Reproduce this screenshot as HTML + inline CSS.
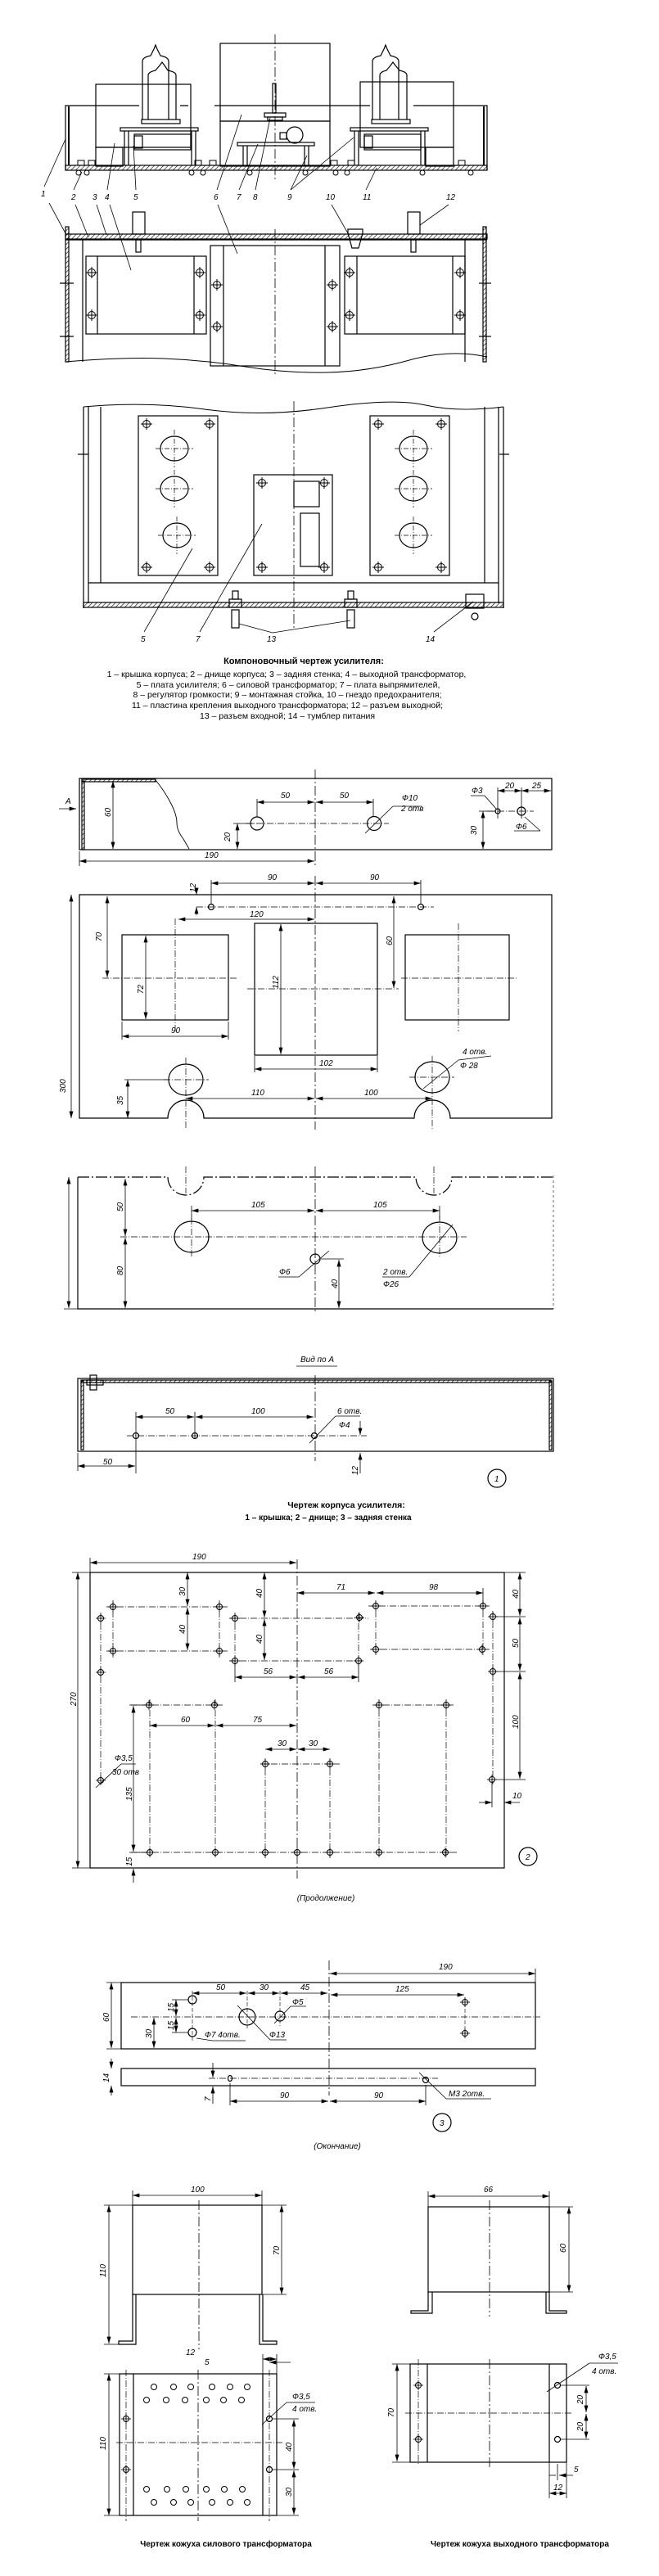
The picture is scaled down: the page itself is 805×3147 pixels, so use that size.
<!DOCTYPE html>
<html><head><meta charset="utf-8"><style>
html,body{margin:0;padding:0;background:#fff}
svg{display:block}
text{font-family:"Liberation Sans","DejaVu Sans",sans-serif;fill:#000}
.d{font-style:italic;font-size:10px}
.c{font-size:10.5px}
.b{font-size:11px;font-weight:bold}
</style></head><body>
<svg width="805" height="3147" viewBox="0 0 805 3147" xmlns="http://www.w3.org/2000/svg" fill="none" stroke="#000" stroke-width="1.2">
<defs>
<marker id="a" viewBox="0 0 10 6" refX="10" refY="3" markerWidth="9" markerHeight="5" orient="auto-start-reverse" markerUnits="userSpaceOnUse"><path d="M0,0L10,3L0,6z" fill="#000" stroke="none"/></marker>
<pattern id="h" width="4" height="4" patternUnits="userSpaceOnUse" patternTransform="rotate(45)"><line x1="0" y1="0" x2="0" y2="4" stroke="#000" stroke-width="1.2"/></pattern>
<g id="sc"><circle r="4.5" stroke-width="1"/><line x1="-7" y1="0" x2="7" y2="0" stroke-width="1"/><line x1="0" y1="-7" x2="0" y2="7" stroke-width="1"/></g>
<g id="ho"><circle r="3.5" stroke-width="1"/><line x1="-6" y1="0" x2="6" y2="0" stroke-width=".8"/><line x1="0" y1="-6" x2="0" y2="6" stroke-width=".8"/></g>
</defs>
<g class="dd" stroke-dasharray="12 3 2 3" stroke-width=".8">
<line x1="336" y1="42" x2="336" y2="220"/>
<line x1="336" y1="280" x2="336" y2="460"/>
<line x1="359" y1="490" x2="359" y2="770"/>
<line x1="385" y1="940" x2="385" y2="1058"/>
<line x1="385" y1="1070" x2="385" y2="1380"/>
<line x1="385" y1="1425" x2="385" y2="1605"/>
<line x1="385" y1="1680" x2="385" y2="1785"/>
<line x1="363" y1="1905" x2="363" y2="2295"/>
<line x1="402" y1="2395" x2="402" y2="2560"/>
<line x1="243" y1="2688" x2="243" y2="2870"/>
<line x1="242" y1="2895" x2="242" y2="3080"/>
<line x1="598" y1="2688" x2="598" y2="2830"/>
<line x1="598" y1="2882" x2="598" y2="3015"/>
</g>

<!-- ========== TOP SECTION VIEW ========== -->
<g>
<rect x="269" y="53" width="134" height="95"/>
<rect x="269" y="148" width="134" height="55"/>
<rect x="117" y="103" width="116" height="77"/>
<rect x="117" y="180" width="33" height="23"/>
<rect x="440" y="100" width="114" height="80"/>
<rect x="520" y="180" width="34" height="23"/>
<path d="M80 208 V129 H170 M220 129 H230 M262 129 H452 M505 129 H595 V208" />
<rect x="80" y="202" width="515" height="6" fill="url(#h)"/>
<line x1="84" y1="130" x2="84" y2="202" stroke-width="2"/>
<line x1="591" y1="130" x2="591" y2="202" stroke-width="2"/>
<!-- tubes -->
<path d="M174 146 V75 Q174 70 184 68 L188 60 L190 55 L192 60 L196 68 Q206 70 206 75 V146"/>
<path d="M181 146 V92 Q181 88 190 86 L195 80 L198 76 L201 80 L205 86 Q215 88 215 92 V146"/>
<rect x="173" y="146" width="47" height="5"/>
<path d="M455 146 V75 Q455 70 465 68 L469 60 L471 55 L473 60 L477 68 Q487 70 487 75 V146"/>
<path d="M464 146 V92 Q464 88 472 86 L477 80 L480 76 L483 80 L488 86 Q497 88 497 92 V146"/>
<rect x="454" y="146" width="47" height="5"/>
<!-- platforms -->
<rect x="147" y="156" width="95" height="4"/>
<line x1="152" y1="160" x2="152" y2="202"/><line x1="157" y1="160" x2="157" y2="202"/>
<line x1="234" y1="160" x2="234" y2="202"/><line x1="239" y1="160" x2="239" y2="202"/>
<rect x="164" y="164" width="69" height="19"/><rect x="164" y="166" width="10" height="15"/>
<rect x="428" y="156" width="95" height="4"/>
<line x1="433" y1="160" x2="433" y2="202"/><line x1="438" y1="160" x2="438" y2="202"/>
<line x1="514" y1="160" x2="514" y2="202"/><line x1="519" y1="160" x2="519" y2="202"/>
<rect x="445" y="164" width="69" height="19"/><rect x="445" y="166" width="10" height="15"/>
<!-- rectifier board -->
<rect x="290" y="174" width="94" height="4"/>
<line x1="297" y1="178" x2="297" y2="202"/><line x1="302" y1="178" x2="302" y2="202"/>
<line x1="372" y1="178" x2="372" y2="202"/><line x1="377" y1="178" x2="377" y2="202"/>
<circle cx="360" cy="165" r="10"/><rect x="342" y="162" width="8" height="8"/>
<rect x="333" y="102" width="4" height="36"/><rect x="323" y="138" width="26" height="5"/><rect x="327" y="143" width="18" height="4"/>
<g stroke-width="1">
<rect x="95" y="196" width="8" height="6"/><rect x="108" y="196" width="8" height="6"/><rect x="238" y="196" width="8" height="6"/><rect x="256" y="196" width="8" height="6"/><rect x="404" y="196" width="8" height="6"/><rect x="425" y="196" width="8" height="6"/><rect x="560" y="196" width="8" height="6"/>
<circle cx="96" cy="211" r="3"/><circle cx="106" cy="211" r="3"/><circle cx="234" cy="211" r="3"/><circle cx="248" cy="211" r="3"/><circle cx="305" cy="211" r="3"/><circle cx="373" cy="211" r="3"/><circle cx="410" cy="211" r="3"/><circle cx="424" cy="211" r="3"/><circle cx="516" cy="211" r="3"/><circle cx="575" cy="211" r="3"/>
</g>
<g stroke-width=".8">
<line x1="54" y1="228" x2="80" y2="170"/><line x1="90" y1="232" x2="100" y2="210"/><line x1="131" y1="232" x2="140" y2="175"/><line x1="166" y1="232" x2="163" y2="178"/>
<line x1="265" y1="232" x2="295" y2="140"/><line x1="292" y1="232" x2="315" y2="176"/><line x1="312" y1="232" x2="330" y2="144"/>
<line x1="355" y1="232" x2="375" y2="190"/><line x1="355" y1="232" x2="432" y2="168"/><line x1="447" y1="232" x2="460" y2="205"/>
</g>
</g>
<g class="d" stroke="none">
<text x="50" y="240">1</text><text x="87" y="244">2</text><text x="113" y="244">3</text><text x="128" y="244">4</text><text x="163" y="244">5</text><text x="261" y="244">6</text><text x="289" y="244">7</text><text x="309" y="244">8</text><text x="351" y="244">9</text><text x="398" y="244">10</text><text x="443" y="244">11</text><text x="545" y="244">12</text>
</g>

<!-- ========== SECOND VIEW ========== -->
<g>
<rect x="80" y="286" width="515" height="6" fill="url(#h)"/>
<line x1="80" y1="293" x2="595" y2="293"/>
<rect x="80" y="277" width="4" height="165" fill="url(#h)"/>
<line x1="101" y1="293" x2="101" y2="442"/>
<line x1="568" y1="293" x2="568" y2="442"/>
<rect x="590" y="277" width="4" height="165" fill="url(#h)"/>
<path d="M80 442 Q150 436 200 438 T300 448 T400 455 T500 440 T595 436" stroke-width="1"/>
<rect x="105" y="313" width="147" height="95"/><line x1="119" y1="313" x2="119" y2="408"/><line x1="237" y1="313" x2="237" y2="408"/>
<rect x="257" y="300" width="158" height="147"/><line x1="273" y1="300" x2="273" y2="447"/><line x1="397" y1="300" x2="397" y2="447"/>
<rect x="421" y="313" width="147" height="95"/><line x1="436" y1="313" x2="436" y2="408"/><line x1="553" y1="313" x2="553" y2="408"/>
<rect x="162" y="259" width="15" height="27"/><rect x="166" y="293" width="6" height="15"/>
<rect x="498" y="259" width="15" height="27"/><rect x="502" y="293" width="6" height="15"/>
<path d="M425 280 H443 V285 L438 303 H430 L425 285 Z"/>
<use href="#sc" x="112" y="333"/><use href="#sc" x="112" y="385"/><use href="#sc" x="244" y="333"/><use href="#sc" x="244" y="385"/>
<use href="#sc" x="265" y="348"/><use href="#sc" x="265" y="399"/><use href="#sc" x="406" y="348"/><use href="#sc" x="406" y="399"/>
<use href="#sc" x="427" y="333"/><use href="#sc" x="427" y="385"/><use href="#sc" x="562" y="333"/><use href="#sc" x="562" y="385"/>
<line x1="73" y1="346" x2="90" y2="346"/><line x1="73" y1="411" x2="90" y2="411"/><line x1="585" y1="346" x2="600" y2="346"/><line x1="585" y1="411" x2="600" y2="411"/>
<g stroke-width=".8"><line x1="60" y1="248" x2="80" y2="285"/><line x1="92" y1="250" x2="108" y2="290"/><line x1="118" y1="250" x2="130" y2="287"/><line x1="134" y1="250" x2="160" y2="330"/><line x1="266" y1="250" x2="290" y2="310"/><line x1="405" y1="250" x2="425" y2="285"/><line x1="548" y1="250" x2="513" y2="275"/></g>
</g>

<!-- ========== THIRD VIEW ========== -->
<g>
<path d="M102 497 Q180 490 250 500 T400 498 T520 495 T615 497" stroke-width="1"/>
<line x1="102" y1="497" x2="102" y2="743"/><line x1="108" y1="497" x2="108" y2="737"/><line x1="123" y1="497" x2="123" y2="712"/>
<line x1="615" y1="497" x2="615" y2="743"/><line x1="609" y1="497" x2="609" y2="737"/><line x1="592" y1="497" x2="592" y2="712"/>
<line x1="108" y1="712" x2="609" y2="712"/>
<rect x="102" y="736" width="513" height="6" fill="url(#h)"/>
<rect x="169" y="508" width="97" height="195"/>
<rect x="452" y="508" width="97" height="195"/>
<rect x="310" y="580" width="96" height="123"/>
<rect x="359" y="588" width="31" height="31"/><rect x="367" y="627" width="23" height="65"/>
<g stroke-width="1.2">
<ellipse cx="213" cy="548" rx="17" ry="15"/><ellipse cx="213" cy="597" rx="17" ry="15"/><ellipse cx="216" cy="654" rx="17" ry="15"/>
<ellipse cx="505" cy="548" rx="17" ry="15"/><ellipse cx="505" cy="597" rx="17" ry="15"/><ellipse cx="505" cy="654" rx="17" ry="15"/>
</g>
<g stroke-width=".7" stroke-dasharray="6 2 1 2">
<line x1="190" y1="548" x2="236" y2="548"/><line x1="213" y1="525" x2="213" y2="571"/><line x1="190" y1="597" x2="236" y2="597"/><line x1="213" y1="574" x2="213" y2="620"/><line x1="193" y1="654" x2="239" y2="654"/><line x1="216" y1="631" x2="216" y2="677"/>
<line x1="482" y1="548" x2="528" y2="548"/><line x1="505" y1="525" x2="505" y2="571"/><line x1="482" y1="597" x2="528" y2="597"/><line x1="505" y1="574" x2="505" y2="620"/><line x1="482" y1="654" x2="528" y2="654"/><line x1="505" y1="631" x2="505" y2="677"/>
</g>
<use href="#sc" x="179" y="518"/><use href="#sc" x="256" y="518"/><use href="#sc" x="179" y="693"/><use href="#sc" x="256" y="693"/>
<use href="#sc" x="462" y="518"/><use href="#sc" x="539" y="518"/><use href="#sc" x="462" y="693"/><use href="#sc" x="539" y="693"/>
<use href="#sc" x="320" y="590"/><use href="#sc" x="396" y="590"/><use href="#sc" x="320" y="693"/><use href="#sc" x="396" y="693"/>
<rect x="284" y="722" width="7" height="10"/><rect x="280" y="732" width="15" height="10"/><rect x="283" y="745" width="9" height="22"/>
<rect x="425" y="722" width="7" height="10"/><rect x="421" y="732" width="15" height="10"/><rect x="424" y="745" width="9" height="22"/>
<rect x="569" y="726" width="22" height="17"/><circle cx="580" cy="753" r="4"/>
<line x1="95" y1="555" x2="108" y2="555"/><line x1="610" y1="555" x2="622" y2="555"/>
<g stroke-width=".8"><line x1="176" y1="772" x2="235" y2="670"/><line x1="244" y1="772" x2="320" y2="640"/><line x1="292" y1="762" x2="333" y2="773"/><line x1="333" y1="773" x2="428" y2="758"/><line x1="530" y1="772" x2="578" y2="735"/></g>
</g>
<g class="d" stroke="none"><text x="172" y="784">5</text><text x="239" y="784">7</text><text x="326" y="784">13</text><text x="520" y="784">14</text></g>

<g stroke="none" text-anchor="middle">
<text class="b" x="371" y="811">Компоновочный чертеж усилителя:</text>
<text class="c" x="350" y="827">1 – крышка корпуса; 2 – днище корпуса; 3 – задняя стенка; 4 – выходной трансформатор,</text>
<text class="c" x="352" y="840">5 – плата усилителя; 6 – силовой трансформатор; 7 – плата выпрямителей,</text>
<text class="c" x="351" y="852">8 – регулятор громкости; 9 – монтажная стойка, 10 – гнездо предохранителя;</text>
<text class="c" x="351" y="865">11 – пластина крепления выходного трансформатора; 12 – разъем выходной;</text>
<text class="c" x="351" y="878">13 – разъем входной; 14 – тумблер питания</text>
</g>

<!-- ========== LID ========== -->
<g>
<rect x="97" y="951" width="577" height="87"/>
<rect x="100" y="954" width="3" height="84" fill="url(#h)"/>
<rect x="100" y="952" width="90" height="3" fill="url(#h)"/>
<path d="M190 953 Q200 965 208 980 T216 1005 T224 1025 L231 1037" stroke-width=".9"/>
<circle cx="314" cy="1006" r="8"/><circle cx="457" cy="1006" r="8.5"/>
<circle cx="608" cy="991" r="3"/><circle cx="637" cy="991" r="5"/>
<g stroke-width=".7" stroke-dasharray="8 2 1 2"><line x1="300" y1="1006" x2="475" y2="1006"/><line x1="595" y1="991" x2="652" y2="991"/></g>
<g stroke-width=".8">
<line x1="314" y1="980" x2="384" y2="980" marker-start="url(#a)" marker-end="url(#a)"/><line x1="386" y1="980" x2="456" y2="980" marker-start="url(#a)" marker-end="url(#a)"/>
<line x1="314" y1="976" x2="314" y2="998"/><line x1="456" y1="976" x2="456" y2="998"/>
<line x1="138" y1="954" x2="138" y2="1037" marker-start="url(#a)" marker-end="url(#a)"/>
<line x1="290" y1="1006" x2="290" y2="1037" marker-start="url(#a)" marker-end="url(#a)"/><line x1="285" y1="1006" x2="310" y2="1006"/>
<line x1="590" y1="991" x2="590" y2="1037" marker-start="url(#a)" marker-end="url(#a)"/><line x1="585" y1="991" x2="605" y2="991"/>
<line x1="97" y1="1052" x2="384" y2="1052" marker-start="url(#a)" marker-end="url(#a)"/><line x1="97" y1="1040" x2="97" y2="1058"/>
<line x1="608" y1="962" x2="608" y2="1000"/><line x1="637" y1="962" x2="637" y2="1000"/>
<line x1="608" y1="966" x2="637" y2="966" marker-start="url(#a)" marker-end="url(#a)"/><line x1="637" y1="966" x2="673" y2="966" marker-start="url(#a)" marker-end="url(#a)"/>
<line x1="446" y1="1018" x2="480" y2="985"/><line x1="480" y1="985" x2="515" y2="985"/>
<line x1="592" y1="972" x2="606" y2="988"/><line x1="575" y1="972" x2="592" y2="972"/>
<line x1="641" y1="998" x2="660" y2="1015"/><line x1="628" y1="1015" x2="660" y2="1015"/>
<line x1="72" y1="988" x2="93" y2="988" marker-end="url(#a)"/>
</g>
</g>
<g class="d" stroke="none">
<text x="343" y="975">50</text><text x="415" y="975">50</text><text x="491" y="978">Ф10</text><text x="490" y="991">2 отв</text>
<text x="576" y="969">Ф3</text><text x="617" y="963">20</text><text x="650" y="963">25</text><text x="630" y="1013">Ф6</text>
<text x="250" y="1048">190</text><text x="80" y="982">А</text>
<text transform="translate(135,998) rotate(-90)">60</text><text transform="translate(281,1028) rotate(-90)">20</text><text transform="translate(582,1020) rotate(-90)">30</text>
</g>

<!-- ========== BOTTOM PLATE ========== -->
<g>
<path d="M97 1366 V1093 H674 V1366 H550 A22 22 0 0 0 506 1366 H249 A22 22 0 0 0 205 1366 Z"/>
<rect x="149" y="1142" width="130" height="104"/>
<rect x="311" y="1128" width="150" height="161"/>
<rect x="495" y="1142" width="127" height="104"/>
<ellipse cx="227" cy="1319" rx="21" ry="19"/><ellipse cx="528" cy="1316" rx="21" ry="19"/>
<circle cx="258" cy="1108" r="3.5"/><circle cx="514" cy="1108" r="3.5"/>
<g stroke-width=".7" stroke-dasharray="8 2 1 2">
<line x1="240" y1="1108" x2="530" y2="1108"/><line x1="125" y1="1195" x2="290" y2="1195"/><line x1="214" y1="1122" x2="214" y2="1260"/>
<line x1="302" y1="1208" x2="487" y2="1208"/><line x1="490" y1="1195" x2="632" y2="1195"/><line x1="560" y1="1128" x2="560" y2="1260"/>
<line x1="200" y1="1319" x2="255" y2="1319"/><line x1="227" y1="1292" x2="227" y2="1380"/><line x1="500" y1="1316" x2="555" y2="1316"/><line x1="528" y1="1290" x2="528" y2="1380"/>
</g>
<g stroke-width=".8">
<line x1="258" y1="1079" x2="384" y2="1079" marker-start="url(#a)" marker-end="url(#a)"/><line x1="386" y1="1079" x2="514" y2="1079" marker-start="url(#a)" marker-end="url(#a)"/>
<line x1="258" y1="1075" x2="258" y2="1105"/><line x1="514" y1="1075" x2="514" y2="1105"/>
<line x1="240" y1="1086" x2="240" y2="1093" marker-end="url(#a)"/><line x1="240" y1="1118" x2="240" y2="1108" marker-end="url(#a)"/>
<line x1="218" y1="1123" x2="384" y2="1123" marker-start="url(#a)" marker-end="url(#a)"/>
<line x1="131" y1="1095" x2="131" y2="1194" marker-start="url(#a)" marker-end="url(#a)"/>
<line x1="178" y1="1143" x2="178" y2="1245" marker-start="url(#a)" marker-end="url(#a)"/>
<line x1="343" y1="1129" x2="343" y2="1288" marker-start="url(#a)" marker-end="url(#a)"/>
<line x1="481" y1="1095" x2="481" y2="1207" marker-start="url(#a)" marker-end="url(#a)"/>
<line x1="149" y1="1266" x2="279" y2="1266" marker-start="url(#a)" marker-end="url(#a)"/><line x1="149" y1="1248" x2="149" y2="1270"/><line x1="279" y1="1248" x2="279" y2="1270"/>
<line x1="311" y1="1306" x2="461" y2="1306" marker-start="url(#a)" marker-end="url(#a)"/><line x1="311" y1="1290" x2="311" y2="1310"/><line x1="461" y1="1290" x2="461" y2="1310"/>
<line x1="87" y1="1093" x2="87" y2="1366" marker-start="url(#a)" marker-end="url(#a)"/>
<line x1="156" y1="1319" x2="156" y2="1366" marker-start="url(#a)" marker-end="url(#a)"/><line x1="152" y1="1319" x2="205" y2="1319"/>
<line x1="227" y1="1342" x2="384" y2="1342" marker-start="url(#a)" marker-end="url(#a)"/><line x1="386" y1="1342" x2="528" y2="1342" marker-start="url(#a)" marker-end="url(#a)"/>
<line x1="517" y1="1330" x2="560" y2="1295"/><line x1="560" y1="1295" x2="600" y2="1290"/>
</g>
</g>
<g class="d" stroke="none">
<text x="327" y="1075">90</text><text x="452" y="1075">90</text><text x="305" y="1120">120</text><text x="209" y="1262">90</text><text x="390" y="1302">102</text>
<text x="565" y="1288">4 отв.</text><text x="562" y="1305">Ф 28</text><text x="307" y="1338">110</text><text x="445" y="1338">100</text>
<text transform="translate(239,1090) rotate(-90)">12</text><text transform="translate(124,1150) rotate(-90)">70</text><text transform="translate(175,1214) rotate(-90)">72</text>
<text transform="translate(340,1208) rotate(-90)">112</text><text transform="translate(479,1155) rotate(-90)">60</text><text transform="translate(80,1335) rotate(-90)">300</text><text transform="translate(150,1350) rotate(-90)">35</text>
</g>

<!-- ========== BACK WALL ========== -->
<g>
<path d="M95 1438 V1599 H676" />
<path d="M95 1438 H205 A22 22 0 0 0 249 1438 H508 A22 22 0 0 0 552 1438 H676" stroke-dasharray="14 3 2 3"/>
<line x1="676" y1="1436" x2="676" y2="1599" stroke-dasharray="3 3" stroke-width=".6"/>
<ellipse cx="234" cy="1511" rx="21" ry="19"/><ellipse cx="537" cy="1512" rx="21" ry="19"/>
<circle cx="385" cy="1538" r="6"/>
<g stroke-width=".7" stroke-dasharray="8 2 1 2">
<line x1="147" y1="1511" x2="570" y2="1511"/><line x1="234" y1="1488" x2="234" y2="1535"/><line x1="537" y1="1485" x2="537" y2="1535"/><line x1="227" y1="1425" x2="227" y2="1458"/><line x1="530" y1="1425" x2="530" y2="1458"/>
</g>
<g stroke-width=".8">
<line x1="234" y1="1479" x2="384" y2="1479" marker-start="url(#a)" marker-end="url(#a)"/><line x1="386" y1="1479" x2="537" y2="1479" marker-start="url(#a)" marker-end="url(#a)"/>
<line x1="234" y1="1473" x2="234" y2="1490"/><line x1="537" y1="1473" x2="537" y2="1490"/>
<line x1="153" y1="1440" x2="153" y2="1510" marker-start="url(#a)" marker-end="url(#a)"/><line x1="153" y1="1512" x2="153" y2="1598" marker-start="url(#a)" marker-end="url(#a)"/>
<line x1="84" y1="1438" x2="84" y2="1598" marker-start="url(#a)" marker-end="url(#a)"/><line x1="78" y1="1599" x2="95" y2="1599"/>
<line x1="414" y1="1539" x2="414" y2="1598" marker-start="url(#a)" marker-end="url(#a)"/><line x1="392" y1="1538" x2="420" y2="1538"/>
<line x1="340" y1="1560" x2="365" y2="1560"/><line x1="365" y1="1560" x2="402" y2="1528"/>
<line x1="467" y1="1560" x2="500" y2="1560"/><line x1="500" y1="1560" x2="553" y2="1496"/>
</g>
</g>
<g class="d" stroke="none">
<text x="307" y="1475">105</text><text x="456" y="1475">105</text><text x="341" y="1557">Ф6</text><text x="468" y="1557">2 отв.</text><text x="468" y="1572">Ф26</text>
<text transform="translate(150,1480) rotate(-90)">50</text><text transform="translate(150,1558) rotate(-90)">80</text><text transform="translate(412,1574) rotate(-90)">40</text>
</g>

<!-- ========== VIEW A ========== -->
<text class="d" x="367" y="1664" stroke="none">Вид по А</text>
<line x1="362" y1="1669" x2="412" y2="1669" stroke-width=".8"/>
<g>
<rect x="95" y="1684" width="581" height="89"/>
<rect x="99" y="1687" width="3" height="84" fill="url(#h)"/>
<rect x="99" y="1686" width="574" height="3" fill="url(#h)"/>
<rect x="671" y="1687" width="3" height="84" fill="url(#h)"/>
<rect x="110" y="1680" width="8" height="18"/><rect x="106" y="1686" width="20" height="6"/>
<circle cx="166" cy="1754" r="3.5"/><circle cx="238" cy="1754" r="3.5"/><circle cx="384" cy="1754" r="3.5"/>
<line x1="155" y1="1754" x2="448" y2="1754" stroke-width=".7" stroke-dasharray="8 2 1 2"/>
<g stroke-width=".8">
<line x1="166" y1="1731" x2="237" y2="1731" marker-start="url(#a)" marker-end="url(#a)"/><line x1="239" y1="1731" x2="383" y2="1731" marker-start="url(#a)" marker-end="url(#a)"/>
<line x1="166" y1="1725" x2="166" y2="1800"/><line x1="238" y1="1725" x2="238" y2="1758"/>
<line x1="95" y1="1791" x2="165" y2="1791" marker-start="url(#a)" marker-end="url(#a)"/><line x1="95" y1="1775" x2="95" y2="1797"/>
<line x1="440" y1="1800" x2="440" y2="1775" marker-end="url(#a)"/><line x1="440" y1="1736" x2="440" y2="1753" marker-end="url(#a)"/>
<line x1="378" y1="1763" x2="410" y2="1730"/><line x1="410" y1="1730" x2="440" y2="1730"/>
</g>
<circle cx="607" cy="1806" r="11"/>
</g>
<g class="d" stroke="none">
<text x="202" y="1727">50</text><text x="307" y="1727">100</text><text x="412" y="1727">6 отв.</text><text x="414" y="1744">Ф4</text><text x="126" y="1789">50</text><text x="604" y="1810">1</text>
<text transform="translate(437,1802) rotate(-90)">12</text>
</g>
<g stroke="none" text-anchor="middle">
<text class="b" x="423" y="1842" style="font-size:10.5px">Чертеж корпуса усилителя:</text>
<text class="c" x="401" y="1857" style="font-weight:bold;font-size:10px">1 – крышка; 2 – днище; 3 – задняя стенка</text>
</g>

<!-- ========== PLATE 2 ========== -->
<g>
<rect x="110" y="1921" width="506" height="361"/>
<g stroke-width=".7" stroke-dasharray="8 2 1 2">
<line x1="130" y1="1963" x2="278" y2="1963"/><line x1="130" y1="2017" x2="278" y2="2017"/><line x1="138" y1="1955" x2="138" y2="2025"/><line x1="268" y1="1955" x2="268" y2="2025"/>
<line x1="123" y1="1970" x2="123" y2="2180"/>
<line x1="280" y1="1977" x2="450" y2="1977"/><line x1="280" y1="2029" x2="446" y2="2029"/><line x1="287" y1="1970" x2="287" y2="2035"/><line x1="438" y1="1970" x2="438" y2="2035"/>
<line x1="450" y1="1962" x2="598" y2="1962"/><line x1="452" y1="2015" x2="598" y2="2015"/><line x1="459" y1="1955" x2="459" y2="2022"/><line x1="590" y1="1955" x2="590" y2="2022"/>
<line x1="602" y1="1968" x2="602" y2="2180"/>
<line x1="160" y1="2083" x2="272" y2="2083"/><line x1="455" y1="2083" x2="556" y2="2083"/>
<line x1="183" y1="2076" x2="183" y2="2270"/><line x1="263" y1="2076" x2="263" y2="2270"/><line x1="463" y1="2076" x2="463" y2="2270"/><line x1="545" y1="2076" x2="545" y2="2270"/>
<line x1="318" y1="2155" x2="415" y2="2155"/><line x1="324" y1="2148" x2="324" y2="2270"/><line x1="403" y1="2148" x2="403" y2="2270"/>
<line x1="160" y1="2263" x2="560" y2="2263"/>
</g>
<g>
<use href="#ho" x="138" y="1963"/><use href="#ho" x="268" y="1963"/><use href="#ho" x="138" y="2017"/><use href="#ho" x="268" y="2017"/>
<use href="#ho" x="123" y="1977"/><use href="#ho" x="123" y="2043"/><use href="#ho" x="123" y="2175"/>
<use href="#ho" x="287" y="1977"/><use href="#ho" x="439" y="1976"/><use href="#ho" x="287" y="2029"/><use href="#ho" x="438" y="2029"/>
<use href="#ho" x="459" y="1962"/><use href="#ho" x="590" y="1962"/><use href="#ho" x="459" y="2015"/><use href="#ho" x="589" y="2015"/>
<use href="#ho" x="602" y="1975"/><use href="#ho" x="602" y="2042"/><use href="#ho" x="601" y="2174"/>
<use href="#ho" x="182" y="2083"/><use href="#ho" x="262" y="2083"/><use href="#ho" x="463" y="2083"/><use href="#ho" x="545" y="2083"/>
<use href="#ho" x="324" y="2155"/><use href="#ho" x="403" y="2155"/>
<use href="#ho" x="183" y="2263"/><use href="#ho" x="263" y="2263"/><use href="#ho" x="324" y="2263"/><use href="#ho" x="363" y="2263"/><use href="#ho" x="403" y="2263"/><use href="#ho" x="463" y="2263"/><use href="#ho" x="544" y="2263"/>
</g>
<g stroke-width=".8">
<line x1="110" y1="1909" x2="362" y2="1909" marker-start="url(#a)" marker-end="url(#a)"/><line x1="110" y1="1903" x2="110" y2="1921"/>
<line x1="95" y1="1921" x2="95" y2="2282" marker-start="url(#a)" marker-end="url(#a)"/><line x1="88" y1="1921" x2="110" y2="1921"/><line x1="88" y1="2282" x2="110" y2="2282"/>
<line x1="229" y1="1921" x2="229" y2="1962" marker-start="url(#a)" marker-end="url(#a)"/><line x1="229" y1="1964" x2="229" y2="2016" marker-start="url(#a)" marker-end="url(#a)"/>
<line x1="323" y1="1921" x2="323" y2="1976" marker-start="url(#a)" marker-end="url(#a)"/><line x1="323" y1="1978" x2="323" y2="2028" marker-start="url(#a)" marker-end="url(#a)"/>
<line x1="363" y1="1946" x2="458" y2="1946" marker-start="url(#a)" marker-end="url(#a)"/><line x1="460" y1="1946" x2="590" y2="1946" marker-start="url(#a)" marker-end="url(#a)"/><line x1="590" y1="1940" x2="590" y2="1958"/>
<line x1="287" y1="2049" x2="362" y2="2049" marker-start="url(#a)" marker-end="url(#a)"/><line x1="364" y1="2049" x2="438" y2="2049" marker-start="url(#a)" marker-end="url(#a)"/><line x1="287" y1="2033" x2="287" y2="2055"/><line x1="438" y1="2033" x2="438" y2="2055"/>
<line x1="183" y1="2108" x2="262" y2="2108" marker-start="url(#a)" marker-end="url(#a)"/><line x1="264" y1="2108" x2="362" y2="2108" marker-start="url(#a)" marker-end="url(#a)"/>
<line x1="324" y1="2137" x2="362" y2="2137" marker-start="url(#a)" marker-end="url(#a)"/><line x1="364" y1="2137" x2="403" y2="2137" marker-start="url(#a)" marker-end="url(#a)"/>
<line x1="163" y1="2084" x2="163" y2="2262" marker-start="url(#a)" marker-end="url(#a)"/><line x1="158" y1="2083" x2="178" y2="2083"/><line x1="158" y1="2263" x2="178" y2="2263"/>
<line x1="163" y1="2300" x2="163" y2="2283" marker-end="url(#a)"/>
<line x1="635" y1="1921" x2="635" y2="1974" marker-start="url(#a)" marker-end="url(#a)"/><line x1="635" y1="1976" x2="635" y2="2041" marker-start="url(#a)" marker-end="url(#a)"/><line x1="635" y1="2043" x2="635" y2="2173" marker-start="url(#a)" marker-end="url(#a)"/>
<line x1="616" y1="1921" x2="642" y2="1921"/><line x1="606" y1="1975" x2="642" y2="1975"/><line x1="606" y1="2042" x2="642" y2="2042"/><line x1="606" y1="2174" x2="642" y2="2174"/>
<line x1="585" y1="2202" x2="601" y2="2202" marker-end="url(#a)"/><line x1="635" y1="2202" x2="616" y2="2202" marker-end="url(#a)"/><line x1="601" y1="2180" x2="601" y2="2208"/>
<line x1="117" y1="2184" x2="148" y2="2155"/><line x1="148" y1="2155" x2="166" y2="2155"/>
</g>
<circle cx="645" cy="2268" r="11"/>
</g>
<g class="d" stroke="none">
<text x="235" y="1905">190</text><text x="411" y="1942">71</text><text x="524" y="1942">98</text><text x="322" y="2045">56</text><text x="396" y="2045">56</text>
<text x="221" y="2104">60</text><text x="309" y="2104">75</text><text x="339" y="2133">30</text><text x="377" y="2133">30</text>
<text x="140" y="2151">Ф3,5</text><text x="137" y="2168">30 отв</text><text x="642" y="2272">2</text><text x="626" y="2197">10</text>
<text transform="translate(93,2084) rotate(-90)">270</text>
<text transform="translate(226,1950) rotate(-90)">30</text><text transform="translate(226,1996) rotate(-90)">40</text>
<text transform="translate(320,1952) rotate(-90)">40</text><text transform="translate(320,2008) rotate(-90)">40</text>
<text transform="translate(161,2200) rotate(-90)">135</text><text transform="translate(161,2280) rotate(-90)">15</text>
<text transform="translate(633,1953) rotate(-90)">40</text><text transform="translate(633,2013) rotate(-90)">50</text><text transform="translate(633,2112) rotate(-90)">100</text>
</g>
<text class="d" x="398" y="2322" text-anchor="middle" stroke="none">(Продолжение)</text>

<!-- ========== PLATE 3 ========== -->
<g>
<rect x="148" y="2422" width="506" height="81"/>
<line x1="160" y1="2464" x2="660" y2="2464" stroke-width=".7" stroke-dasharray="8 2 1 2"/>
<circle cx="235" cy="2443" r="5"/><circle cx="235" cy="2483" r="5"/><circle cx="302" cy="2464" r="10"/><circle cx="342" cy="2463" r="6"/>
<use href="#ho" x="568" y="2446"/><use href="#ho" x="568" y="2484"/>
<g stroke-width=".6" stroke-dasharray="5 2"><line x1="235" y1="2432" x2="235" y2="2495"/><line x1="302" y1="2432" x2="302" y2="2478"/><line x1="342" y1="2432" x2="342" y2="2475"/><line x1="568" y1="2440" x2="568" y2="2490"/></g>
<g stroke-width=".8">
<line x1="403" y1="2411" x2="654" y2="2411" marker-start="url(#a)" marker-end="url(#a)"/><line x1="654" y1="2405" x2="654" y2="2422"/>
<line x1="235" y1="2435" x2="301" y2="2435" marker-start="url(#a)" marker-end="url(#a)"/><line x1="303" y1="2435" x2="341" y2="2435" marker-start="url(#a)" marker-end="url(#a)"/><line x1="343" y1="2435" x2="400" y2="2435" marker-start="url(#a)" marker-end="url(#a)"/>
<line x1="404" y1="2437" x2="567" y2="2437" marker-start="url(#a)" marker-end="url(#a)"/>
<line x1="215" y1="2443" x2="215" y2="2463" marker-start="url(#a)" marker-end="url(#a)"/><line x1="215" y1="2465" x2="215" y2="2483" marker-start="url(#a)" marker-end="url(#a)"/>
<line x1="210" y1="2443" x2="230" y2="2443"/><line x1="210" y1="2483" x2="230" y2="2483"/>
<line x1="188" y1="2465" x2="188" y2="2502" marker-start="url(#a)" marker-end="url(#a)"/>
<line x1="136" y1="2422" x2="136" y2="2502" marker-start="url(#a)" marker-end="url(#a)"/><line x1="130" y1="2422" x2="148" y2="2422"/><line x1="130" y1="2503" x2="148" y2="2503"/>
<line x1="240" y1="2490" x2="260" y2="2493"/><line x1="260" y1="2493" x2="300" y2="2493"/>
<line x1="290" y1="2450" x2="330" y2="2492"/><line x1="330" y1="2492" x2="350" y2="2492"/>
<line x1="335" y1="2472" x2="355" y2="2451"/><line x1="355" y1="2451" x2="374" y2="2451"/>
</g>
<rect x="148" y="2527" width="506" height="21"/>
<line x1="255" y1="2539" x2="535" y2="2539" stroke-width=".7" stroke-dasharray="8 2 1 2"/>
<ellipse cx="281" cy="2539" rx="2.5" ry="3.5"/><circle cx="520" cy="2541" r="3.5"/>
<g stroke-width=".8">
<line x1="281" y1="2567" x2="401" y2="2567" marker-start="url(#a)" marker-end="url(#a)"/><line x1="403" y1="2567" x2="520" y2="2567" marker-start="url(#a)" marker-end="url(#a)"/>
<line x1="281" y1="2545" x2="281" y2="2572"/><line x1="520" y1="2547" x2="520" y2="2572"/>
<line x1="260" y1="2520" x2="260" y2="2538" marker-end="url(#a)"/><line x1="260" y1="2570" x2="260" y2="2549" marker-end="url(#a)"/>
<line x1="136" y1="2515" x2="136" y2="2527" marker-end="url(#a)"/><line x1="136" y1="2560" x2="136" y2="2548" marker-end="url(#a)"/>
<line x1="512" y1="2532" x2="545" y2="2564"/><line x1="545" y1="2564" x2="600" y2="2564"/>
</g>
<circle cx="540" cy="2593" r="11"/>
</g>
<g class="d" stroke="none">
<text x="536" y="2406">190</text><text x="264" y="2431">50</text><text x="317" y="2431">30</text><text x="367" y="2431">45</text><text x="483" y="2433">125</text>
<text x="357" y="2449">Ф5</text><text x="329" y="2489">Ф13</text><text x="250" y="2489">Ф7 4отв.</text>
<text x="342" y="2563">90</text><text x="457" y="2563">90</text><text x="548" y="2561">М3 2отв.</text><text x="537" y="2597">3</text>
<text transform="translate(212,2458) rotate(-90)">15</text><text transform="translate(212,2480) rotate(-90)">15</text><text transform="translate(185,2490) rotate(-90)">30</text>
<text transform="translate(133,2470) rotate(-90)">60</text><text transform="translate(133,2544) rotate(-90)">14</text><text transform="translate(257,2567) rotate(-90)">7</text>
</g>
<text class="d" x="412" y="2625" text-anchor="middle" stroke="none">(Окончание)</text>

<!-- ========== POWER TRANSFORMER SHROUD ========== -->
<g>
<rect x="162" y="2694" width="158" height="109"/>
<path d="M162 2803 V2860 H145 V2864 H166 V2803"/>
<path d="M321 2803 V2860 H338 V2864 H317 V2803"/>
<g stroke-width=".8">
<line x1="162" y1="2682" x2="320" y2="2682" marker-start="url(#a)" marker-end="url(#a)"/><line x1="162" y1="2676" x2="162" y2="2694"/><line x1="320" y1="2676" x2="320" y2="2694"/>
<line x1="133" y1="2694" x2="133" y2="2863" marker-start="url(#a)" marker-end="url(#a)"/><line x1="127" y1="2694" x2="162" y2="2694"/><line x1="127" y1="2864" x2="145" y2="2864"/>
<line x1="344" y1="2694" x2="344" y2="2803" marker-start="url(#a)" marker-end="url(#a)"/><line x1="320" y1="2694" x2="350" y2="2694"/><line x1="320" y1="2803" x2="350" y2="2803"/>
</g>
<rect x="146" y="2900" width="192" height="173"/>
<line x1="163" y1="2900" x2="163" y2="3073"/><line x1="321" y1="2900" x2="321" y2="3073"/>
<g stroke-width=".7" stroke-dasharray="8 2 1 2"><line x1="154" y1="2895" x2="154" y2="3080"/><line x1="329" y1="2895" x2="329" y2="3080"/><line x1="142" y1="2984" x2="345" y2="2984"/></g>
<use href="#ho" x="154" y="2955"/><use href="#ho" x="154" y="3017"/><circle cx="329" cy="2955" r="3.5"/><circle cx="329" cy="3017" r="3.5"/>
<g stroke-width="1">
<circle cx="188" cy="2916" r="3.5"/><circle cx="212" cy="2916" r="3.5"/><circle cx="233" cy="2916" r="3.5"/><circle cx="259" cy="2916" r="3.5"/><circle cx="281" cy="2916" r="3.5"/><circle cx="302" cy="2916" r="3.5"/>
<circle cx="179" cy="2932" r="3.5"/><circle cx="203" cy="2932" r="3.5"/><circle cx="226" cy="2932" r="3.5"/><circle cx="252" cy="2932" r="3.5"/><circle cx="273" cy="2932" r="3.5"/><circle cx="295" cy="2932" r="3.5"/>
<circle cx="179" cy="3041" r="3.5"/><circle cx="204" cy="3041" r="3.5"/><circle cx="227" cy="3041" r="3.5"/><circle cx="252" cy="3041" r="3.5"/><circle cx="274" cy="3041" r="3.5"/><circle cx="296" cy="3041" r="3.5"/>
<circle cx="188" cy="3057" r="3.5"/><circle cx="212" cy="3057" r="3.5"/><circle cx="233" cy="3057" r="3.5"/><circle cx="259" cy="3057" r="3.5"/><circle cx="281" cy="3057" r="3.5"/><circle cx="302" cy="3057" r="3.5"/>
</g>
<g stroke-width=".8">
<line x1="133" y1="2900" x2="133" y2="3073" marker-start="url(#a)" marker-end="url(#a)"/><line x1="127" y1="2900" x2="146" y2="2900"/><line x1="127" y1="3073" x2="146" y2="3073"/>
<line x1="359" y1="2956" x2="359" y2="3016" marker-start="url(#a)" marker-end="url(#a)"/><line x1="359" y1="3018" x2="359" y2="3072" marker-start="url(#a)" marker-end="url(#a)"/>
<line x1="333" y1="2955" x2="365" y2="2955"/><line x1="333" y1="3017" x2="365" y2="3017"/><line x1="338" y1="3073" x2="365" y2="3073"/>
<line x1="321" y1="2882" x2="338" y2="2882" marker-start="url(#a)" marker-end="url(#a)"/><line x1="321" y1="2876" x2="321" y2="2900"/><line x1="338" y1="2876" x2="338" y2="2900"/>
<line x1="355" y1="2886" x2="329" y2="2886" marker-end="url(#a)"/>
<line x1="320" y1="2962" x2="350" y2="2935"/><line x1="350" y1="2935" x2="385" y2="2935"/>
</g>
</g>
<g class="d" stroke="none">
<text x="233" y="2678">100</text><text x="227" y="2877">12</text><text x="250" y="2889">5</text>
<text x="357" y="2931">Ф3,5</text><text x="357" y="2946">4 отв.</text>
<text transform="translate(129,2782) rotate(-90)">110</text><text transform="translate(341,2755) rotate(-90)">70</text>
<text transform="translate(129,2993) rotate(-90)">110</text><text transform="translate(356,2995) rotate(-90)">40</text><text transform="translate(356,3050) rotate(-90)">30</text>
</g>
<text class="b" x="276" y="3111" text-anchor="middle" stroke="none" style="font-size:10px">Чертеж кожуха силового трансформатора</text>

<!-- ========== OUTPUT TRANSFORMER SHROUD ========== -->
<g>
<rect x="523" y="2696" width="148" height="104"/>
<path d="M523 2800 V2823 H502 V2826 H528 V2800"/>
<path d="M671 2800 V2823 H692 V2826 H667 V2800"/>
<g stroke-width=".8">
<line x1="523" y1="2683" x2="671" y2="2683" marker-start="url(#a)" marker-end="url(#a)"/><line x1="523" y1="2677" x2="523" y2="2696"/><line x1="671" y1="2677" x2="671" y2="2696"/>
<line x1="695" y1="2696" x2="695" y2="2800" marker-start="url(#a)" marker-end="url(#a)"/><line x1="671" y1="2696" x2="700" y2="2696"/><line x1="671" y1="2800" x2="700" y2="2800"/>
</g>
<rect x="501" y="2888" width="191" height="120"/>
<line x1="522" y1="2888" x2="522" y2="3008"/><line x1="671" y1="2888" x2="671" y2="3008"/>
<g stroke-width=".7" stroke-dasharray="8 2 1 2"><line x1="511" y1="2882" x2="511" y2="3012"/><line x1="495" y1="2948" x2="700" y2="2948"/></g>
<use href="#ho" x="511" y="2914"/><use href="#ho" x="511" y="2980"/><circle cx="681" cy="2914" r="3.5"/><circle cx="681" cy="2980" r="3.5"/>
<g stroke-width=".8">
<line x1="485" y1="2888" x2="485" y2="3007" marker-start="url(#a)" marker-end="url(#a)"/><line x1="479" y1="2888" x2="501" y2="2888"/><line x1="479" y1="3008" x2="501" y2="3008"/>
<line x1="716" y1="2915" x2="716" y2="2947" marker-start="url(#a)" marker-end="url(#a)"/><line x1="716" y1="2949" x2="716" y2="2979" marker-start="url(#a)" marker-end="url(#a)"/>
<line x1="685" y1="2914" x2="720" y2="2914"/><line x1="685" y1="2980" x2="720" y2="2980"/>
<line x1="671" y1="3008" x2="671" y2="3052"/><line x1="692" y1="3008" x2="692" y2="3052"/>
<line x1="671" y1="3046" x2="692" y2="3046" marker-start="url(#a)" marker-end="url(#a)"/>
<line x1="671" y1="3024" x2="679" y2="3024" /><line x1="700" y1="3024" x2="683" y2="3024" marker-end="url(#a)"/><line x1="681" y1="3010" x2="681" y2="3030"/>
<line x1="668" y1="2922" x2="720" y2="2887"/><line x1="720" y1="2887" x2="755" y2="2887"/>
</g>
</g>
<g class="d" stroke="none">
<text x="591" y="2678">66</text><text x="731" y="2882">Ф3,5</text><text x="723" y="2900">4 отв.</text><text x="701" y="3020">5</text><text x="676" y="3042">12</text>
<text transform="translate(691,2752) rotate(-90)">60</text><text transform="translate(481,2953) rotate(-90)">70</text>
<text transform="translate(712,2937) rotate(-90)">20</text><text transform="translate(712,2970) rotate(-90)">20</text>
</g>
<text class="b" x="635" y="3111" text-anchor="middle" stroke="none" style="font-size:10px">Чертеж кожуха выходного трансформатора</text>
</svg>
</body></html>
